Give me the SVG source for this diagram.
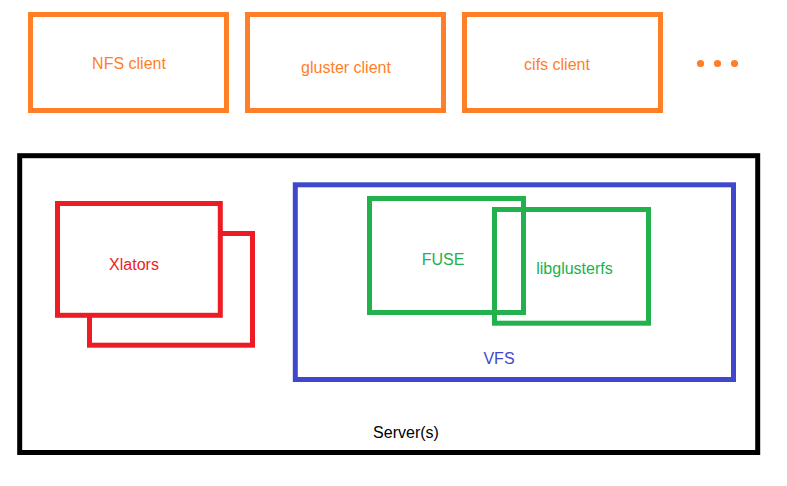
<svg xmlns="http://www.w3.org/2000/svg" width="787" height="486" viewBox="0 0 787 486">
<style>
.box{fill:none;stroke-width:5}
.o{stroke:#ff7f27}
.r{stroke:#ed1c24}
.b{stroke:#3f48cc}
.g{stroke:#22b14c}
.k{stroke:#000}
.front{fill:#fff}
text{font-family:"Liberation Sans","DejaVu Sans",sans-serif;font-size:16px;text-anchor:middle}
.to{fill:#ff7f27}
.tr{fill:#ed1c24}
.tb{fill:#3f48cc}
.tg{fill:#22b14c}
.tk{fill:#000}
</style>
<rect width="787" height="486" fill="#fff"/>
<g id="nfs-client">
<rect class="box o" x="30.5" y="14.5" width="196" height="96"/>
<text class="to" x="129" y="69">NFS client</text>
</g>
<g id="gluster-client">
<rect class="box o" x="247.5" y="14.5" width="196" height="96"/>
<text class="to" x="346" y="73">gluster client</text>
</g>
<g id="cifs-client">
<rect class="box o" x="464.5" y="14.5" width="196" height="96"/>
<text class="to" x="557" y="70">cifs client</text>
</g>
<g id="more" fill="#ff7f27">
<circle cx="700.5" cy="63.5" r="3.6"/>
<circle cx="717.5" cy="63.5" r="3.6"/>
<circle cx="734.5" cy="63.5" r="3.6"/>
</g>
<g id="servers">
<rect class="box k" x="19.7" y="155.7" width="738" height="296.8"/>
<text class="tk" x="406" y="438">Server(s)</text>
</g>
<g id="xlators">
<rect class="box r" x="89.5" y="233.5" width="163" height="111.7"/>
<rect class="box r front" x="57.5" y="203.5" width="162.8" height="111.8"/>
<text class="tr" x="134" y="270">Xlators</text>
</g>
<g id="vfs">
<rect class="box b" x="295.3" y="184.8" width="438.2" height="194.7"/>
<text class="tb" x="499" y="364">VFS</text>
</g>
<g id="fuse">
<rect class="box g" x="369.5" y="198.5" width="154" height="114"/>
<text class="tg" x="443" y="265">FUSE</text>
</g>
<g id="libglusterfs">
<rect class="box g" x="494.5" y="209.5" width="154" height="113.7"/>
<text class="tg" x="574.5" y="274">libglusterfs</text>
</g>
<g id="connectors"/>
</svg>
